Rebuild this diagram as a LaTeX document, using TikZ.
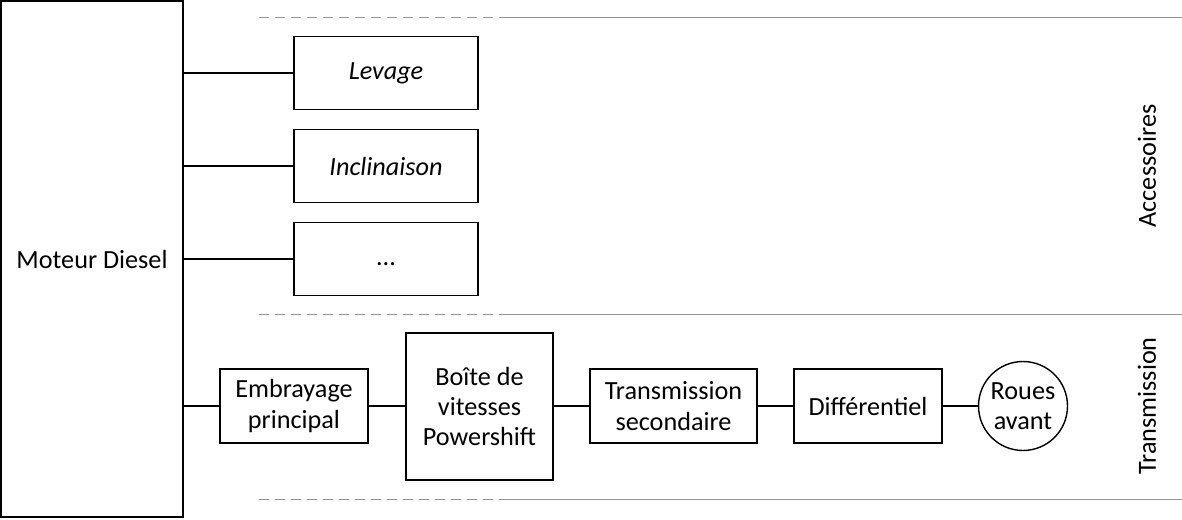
\documentclass[tikz,border=0pt]{standalone}
\usepackage{fontspec}
\setmainfont{Carlito}
\tikzset{
  bloc/.style={draw, line width=0.7pt, inner sep=0pt, align=center},
  roue/.style={draw, circle, line width=0.7pt, inner sep=0pt, minimum size=44.5pt, align=center},
  lien/.style={line width=0.7pt},
  bord/.style={draw=gray!85, line width=0.5pt},
  tiret/.style={bord, dash pattern=on 5pt off 3pt}
}
\begin{document}
\begin{tikzpicture}[x=0.5pt,y=-0.5pt,font=\fontsize{13.1}{15.2}\selectfont]
      \useasboundingbox (0,0) rectangle (1182,519);
      % zones
      \coordinate (z1a) at (259,18);  \coordinate (z1b) at (507,18);  \coordinate (z1c) at (1182,18);
      \coordinate (z2a) at (259,314); \coordinate (z2b) at (507,314); \coordinate (z2c) at (1182,314);
      \coordinate (z3a) at (259,499); \coordinate (z3b) at (507,499); \coordinate (z3c) at (1182,499);
      \draw[tiret] (z1a) -- (z1b);
      \draw[tiret] (z2a) -- (z2b);
      \draw[tiret] (z3a) -- (z3b);
      \draw[bord] (z1b) -- (z1c);
      \draw[bord] (z2b) -- (z2c);
      \draw[bord] (z3b) -- (z3c);
      \draw
        (92,259) node[bloc, minimum width=91pt, minimum height=258pt] (moteur){Moteur Diesel}
        (386,73) node[bloc, minimum width=92pt, minimum height=36.5pt] (levage){\itshape Levage}
        (386,166) node[bloc, minimum width=92pt, minimum height=36.5pt] (incl){\itshape Inclinaison}
        (386,259) node[bloc, minimum width=92pt, minimum height=36.5pt] (autres){\strut...}
        (294,406) node[bloc, minimum width=74pt, minimum height=37pt] (embr){Embrayage\\principal}
        (479.5,406.5) node[bloc, minimum width=73.5pt, minimum height=73.5pt] (boite){Boîte de\\vitesses\\Powershift}
        (673.5,406) node[bloc, minimum width=83.5pt, minimum height=37pt] (trans){Transmission\\secondaire}
        (868,406) node[bloc, minimum width=74pt, minimum height=37pt] (diff){Différentiel}
        (1023,406) node[roue] (roues){Roues\\avant}
        (1147,166) node[rotate=90] (acc){Accessoires}
        (1147,406) node[rotate=90] (transm){Transmission};
      \begin{scope}[lien]
        \draw (moteur.east |- levage) to (levage);
        \draw (moteur.east |- incl) to (incl);
        \draw (moteur.east |- autres) to (autres);
        \draw (moteur.east |- embr) to (embr);
        \draw (embr) to (boite.west |- embr);
        \draw (boite.east |- trans) to (trans);
        \draw (trans) to (diff);
        \draw (diff) to (roues);
      \end{scope}
    \end{tikzpicture}
\end{document}
